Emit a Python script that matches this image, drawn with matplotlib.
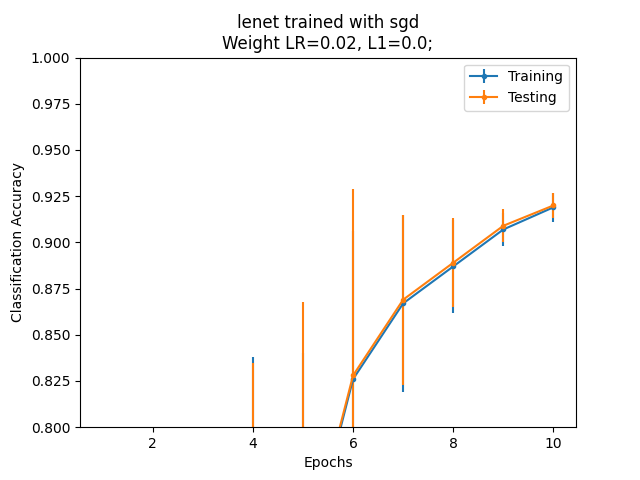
import numpy as np
import matplotlib
matplotlib.use("Agg")
import matplotlib.pyplot as plt

epochs = [1, 2, 3, 4, 5, 6, 7, 8, 9, 10]
train_acc = [0.30, 0.45, 0.56, 0.65, 0.720, 0.826, 0.867, 0.887, 0.907, 0.919]
train_err = [0.10, 0.12, 0.15, 0.188, 0.12, 0.08, 0.048, 0.025, 0.009, 0.008]
test_acc = [0.30, 0.45, 0.56, 0.65, 0.722, 0.828, 0.869, 0.889, 0.909, 0.920]
test_err = [0.10, 0.12, 0.15, 0.185, 0.146, 0.101, 0.046, 0.024, 0.009, 0.007]

fig, ax = plt.subplots(figsize=(6.4, 4.8), dpi=100)
ax.errorbar(epochs, train_acc, yerr=train_err, marker='.', label='Training')
ax.errorbar(epochs, test_acc, yerr=test_err, marker='.', label='Testing')
ax.set_ylim(0.8, 1.0)
ax.set_xlabel('Epochs')
ax.set_ylabel('Classification Accuracy')
ax.set_title('lenet trained with sgd\nWeight LR=0.02, L1=0.0;')
ax.legend(loc='upper right')
fig.savefig('out.png')
